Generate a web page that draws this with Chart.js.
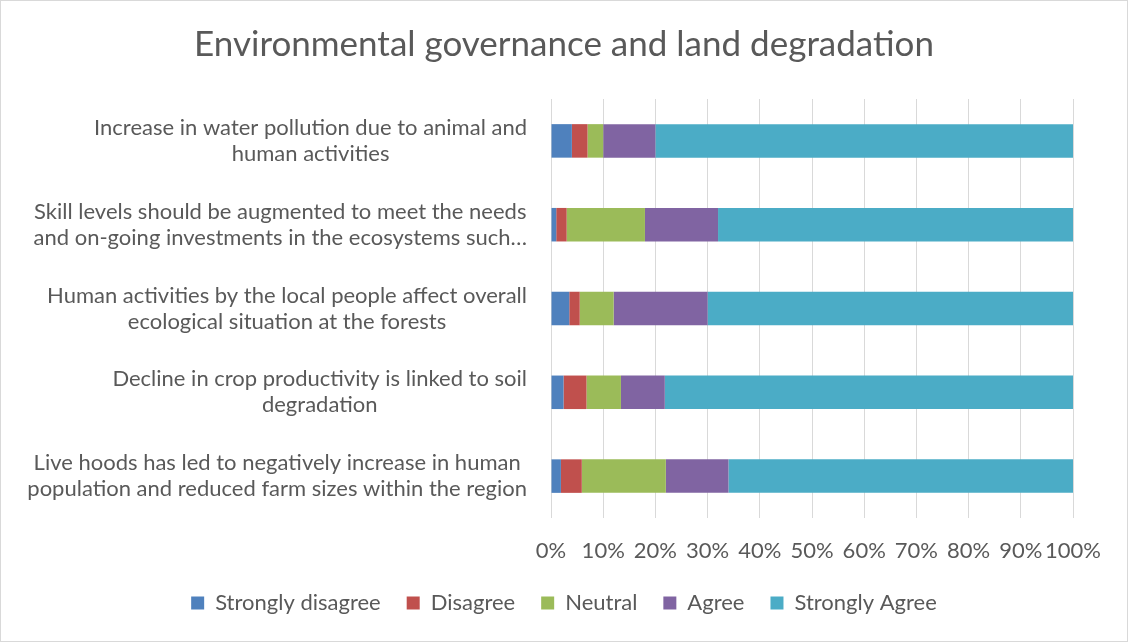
<!DOCTYPE html>
<html>
<head>
<meta charset="utf-8">
<script src="https://cdn.jsdelivr.net/npm/chart.js@4"></script>
<style>
  html, body { margin: 0; padding: 0; background: #fff; }
  #wrap { width: 1128px; height: 642px; box-sizing: border-box; border: 1px solid #d9d9d9; }
  canvas { display: block; }
</style>
</head>
<body>
<div id="wrap"><canvas id="c" width="1126" height="640"></canvas></div>
<script>
// Survey statements (top to bottom) and the share of each response, in percent
const statements = [
  ["Increase in water pollution due to animal and", "human activities"],
  ["Skill levels should be augmented to meet the needs", "and on-going investments in the ecosystems such…"],
  ["Human activities by the local people affect overall", "ecological situation at the forests"],
  ["Decline in crop productivity is linked to soil", "degradation"],
  ["Live hoods has led to negatively increase in human", "population and reduced farm sizes within the region"]
];
const responses = ["Strongly disagree", "Disagree", "Neutral", "Agree", "Strongly Agree"];
const stronglyDisagree = [4, 1, 3.5, 2.4, 1.9];
const disagree         = [3, 2, 2, 4.4, 4];
const neutral          = [3, 15, 6.5, 6.6, 16.1];
const agree            = [10, 14, 18, 8.4, 12];
const stronglyAgree    = [80, 68, 70, 78.2, 66];
const xTicks = ["0%", "10%", "20%", "30%", "40%", "50%", "60%", "70%", "80%", "90%", "100%"];

const colors = ["#4F81BD", "#C0504D", "#9BBB59", "#8064A2", "#4BACC6"];
const seriesValues = [stronglyDisagree, disagree, neutral, agree, stronglyAgree];
const FONT = "Lato, 'Liberation Sans', sans-serif";
const TEXT = "#595959";

// Category labels: block right-aligned against the axis, each line centred in its block
const labelPlugin = {
  id: "blockLabels",
  afterDraw(chart) {
    const y = chart.scales.y;
    const ctx = chart.ctx;
    ctx.save();
    ctx.font = "22px " + FONT;
    ctx.fillStyle = TEXT;
    ctx.textAlign = "center";
    ctx.textBaseline = "middle";
    const right = chart.chartArea.left - 24;
    const lh = 26;
    statements.forEach((lines, i) => {
      const cy = y.getPixelForTick(i);
      const w = Math.max(...lines.map(l => ctx.measureText(l).width));
      const cx = right - w / 2;
      lines.forEach((l, k) => {
        ctx.fillText(l, cx, cy + (k - (lines.length - 1) / 2) * lh);
      });
    });
    ctx.restore();
  }
};

new Chart(document.getElementById("c"), {
  type: "bar",
  data: {
    labels: statements.map(s => s.join(" ")),
    datasets: responses.map((name, i) => ({
      label: name,
      data: seriesValues[i],
      backgroundColor: colors[i],
      borderWidth: 0,
      categoryPercentage: 1,
      barPercentage: 0.4
    }))
  },
  options: {
    indexAxis: "y",
    responsive: false,
    animation: false,
    layout: { padding: { left: 0, right: 0, top: 0, bottom: 17 } },
    scales: {
      x: {
        stacked: true,
        min: 0,
        max: 100,
        grid: { color: "#d9d9d9", lineWidth: 1, drawTicks: false },
        border: { display: false },
        ticks: {
          stepSize: 10,
          padding: 20,
          maxRotation: 0,
          autoSkip: false,
          color: TEXT,
          font: { family: FONT, size: 22 },
          callback: (v, i) => xTicks[i]
        },
        afterFit(scale) { scale.height = 48; }
      },
      y: {
        stacked: true,
        grid: { display: false },
        border: { display: false },
        ticks: { display: false },
        afterFit(scale) { scale.width = 550; }
      },
      // empty margin column to the right of the plot
      yRight: {
        type: "linear",
        position: "right",
        grid: { display: false },
        border: { display: false },
        ticks: { display: false },
        afterFit(scale) { scale.width = 54; }
      }
    },
    plugins: {
      title: {
        display: true,
        text: "Environmental governance and land degradation",
        color: TEXT,
        font: { family: FONT, size: 35, weight: "normal", lineHeight: 1.2 },
        padding: { top: 23, bottom: 33 }
      },
      legend: {
        position: "bottom",
        labels: {
          color: TEXT,
          font: { family: FONT, size: 22 },
          boxWidth: 13,
          boxHeight: 13,
          padding: 26
        }
      },
      tooltip: { enabled: false }
    }
  },
  plugins: [labelPlugin]
});
</script>
</body>
</html>
